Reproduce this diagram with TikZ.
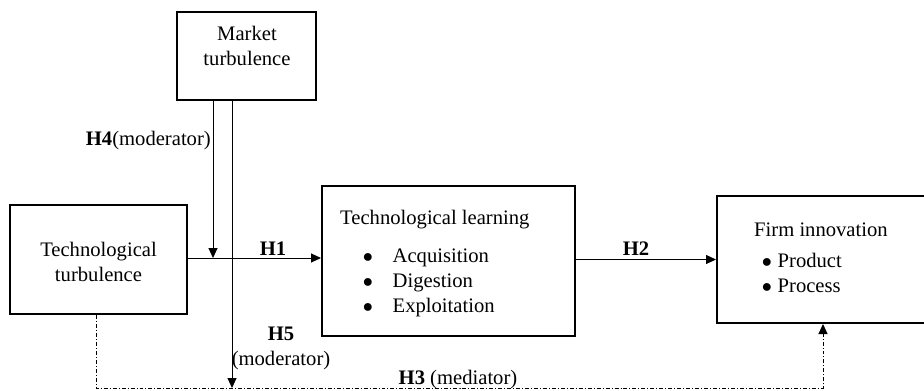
\documentclass[tikz,border=0pt]{standalone}
\usepackage{fontspec}
\setmainfont{Liberation Serif}
\usetikzlibrary{arrows.meta}

\begin{document}
\begin{tikzpicture}[x=0.03cm,y=-0.03cm,
    every node/.style={font=\fontsize{17.6}{21.3}\selectfont},
    box/.style={draw,line width=1.7pt,rectangle,inner sep=0pt},
    arr/.style={line width=0.85pt,-{Triangle[length=0.3cm,width=0.27cm]}},
    mediate/.style={arr,dash pattern=on 3.4pt off 1.7pt on 0.85pt off 1.7pt}]
    \useasboundingbox (0,0) rectangle (924,390);

    % boxes
    \node[box,minimum width=4.17cm,minimum height=2.64cm] (market) at (246.5,56) {};
    \node[box,minimum width=5.31cm,minimum height=3.27cm] (techturb) at (98.5,259.5) {};
    \node[box,minimum width=7.59cm,minimum height=4.5cm] (learn) at (448.5,261) {};
    \node[box,minimum width=6.36cm,minimum height=3.81cm] (innov) at (823,259.5) {};

    % texts in the boxes
    \node[align=center] (markettxt) at (247,46) {Market\\turbulence};
    \node[align=center] (techtxt) at (98.5,262) {Technological\\turbulence};
    \node[align=left,anchor=north west,inner sep=0pt] (learntxt) at (340,210) {Technological learning\\[0.39cm]%
        \hspace*{0.68cm}$\bullet$\hspace{0.59cm}Acquisition\\%
        \hspace*{0.68cm}$\bullet$\hspace{0.59cm}Digestion\\%
        \hspace*{0.68cm}$\bullet$\hspace{0.59cm}Exploitation};
    \node[align=left,anchor=north west,inner sep=0pt] (innovtxt) at (754,222.5) {Firm innovation\\[0.18cm]%
        \hspace*{0.23cm}$\bullet$\hspace{0.17cm}Product\\%
        \hspace*{0.23cm}$\bullet$\hspace{0.17cm}Process};

    % arrows
    \coordinate (h4end) at (213,258);
    \coordinate (h5end) at (232,388);
    \coordinate (h3low) at (460,388);
    \draw[arr] (techturb.east |- h4end) -- (learn.west |- h4end);
    \draw[arr] (innov.west -| learn.east) -- (innov.west);
    \draw[arr] (market.south -| h4end) -- (h4end);
    \draw[arr] (market.south -| h5end) -- (h5end);
    \draw[mediate] ([xshift=-0.075cm]techturb.south) |- (h3low) -| (innov.south);

    % hypothesis labels
    \node[anchor=east,inner sep=0pt] (h4lab) at (211,141) {\textbf{H4}(moderator)};
    \node (h1lab) at (273,249) {\textbf{H1}};
    \node (h2lab) at (636,249) {\textbf{H2}};
    \node[align=center] (h5lab) at (281,348.5) {\textbf{H5}\\(moderator)};
    \node (h3lab) at (458,380) {\textbf{H3} (mediator)};
\end{tikzpicture}
\end{document}
